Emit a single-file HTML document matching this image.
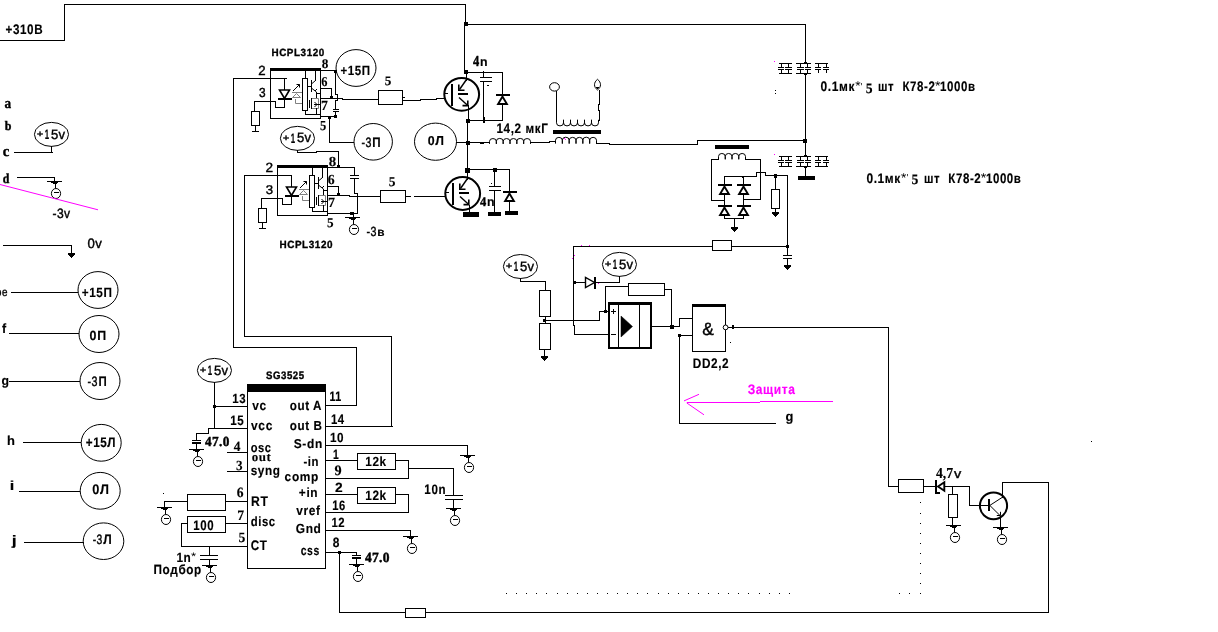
<!DOCTYPE html>
<html lang="ru">
<head>
<meta charset="utf-8">
<title>Схема: SG3525, HCPL3120</title>
<style>
html,body{margin:0;padding:0;background:#fff;}
body{width:1218px;height:632px;overflow:hidden;}
svg{display:block;will-change:transform;}
text{font-family:"Liberation Sans",sans-serif;font-size:13.33px;fill:#000;white-space:pre;text-rendering:geometricPrecision;}
text.b{font-weight:bold;stroke:#000;stroke-width:0.15px;}
text.r{font-weight:normal;stroke:#000;stroke-width:0.4px;}
text.tb{font-family:"Liberation Serif",serif;font-weight:bold;stroke:#000;stroke-width:0.4px;}
text.t{font-family:"Liberation Serif",serif;font-weight:normal;stroke:#000;stroke-width:0.3px;}
text.tm{font-family:"Liberation Serif",serif;font-weight:bold;stroke:#000;stroke-width:0.12px;}
text.s{font-weight:bold;stroke:#000;stroke-width:0.35px;}
text.l{font-weight:normal;}
</style>
</head>
<body>
<svg width="1218" height="632" viewBox="0 0 1218 632" shape-rendering="crispEdges">
<rect x="0" y="0" width="1218" height="632" fill="#fff"/>
<rect x="0" y="40" width="65" height="1" fill="#000"/>
<rect x="64" y="4" width="1" height="37" fill="#000"/>
<rect x="64" y="4" width="402" height="1" fill="#000"/>
<rect x="465" y="4" width="1" height="21" fill="#000"/>
<rect x="465" y="24" width="341" height="1" fill="#000"/>
<rect x="805" y="24" width="1" height="39" fill="#000"/>
<rect x="805" y="74" width="1" height="82" fill="#000"/>
<rect x="805" y="167" width="1" height="10" fill="#000"/>
<rect x="464" y="22" width="4" height="4" fill="#000"/>
<rect x="464" y="24" width="1" height="49" fill="#000"/>
<text class="b" transform="translate(5.53 33.66) scale(0.845 1)" style="font-size:13.80px;letter-spacing:0.7px">+310B</text>
<text class="tb" transform="translate(4.50 107.85) scale(0.879 1)" style="font-size:15.00px">a</text>
<text class="tb" transform="translate(4.72 130.47) scale(0.930 1)" style="font-size:12.91px">b</text>
<text class="tb" transform="translate(2.68 155.65) scale(0.987 1)" style="font-size:15.00px">c</text>
<text class="tb" transform="translate(2.72 182.86) scale(0.873 1)" style="font-size:13.62px">d</text>
<ellipse cx="51.5" cy="134.4" rx="17.05" ry="12.0" fill="none" stroke="#000" stroke-width="1" shape-rendering="geometricPrecision"/>
<text class="b" transform="translate(36.70 137.29) scale(1.214 1)" style="font-size:9.22px">+</text><text class="b" transform="translate(44.69 138.65) scale(0.570 1)" style="font-size:13.77px">1</text><text class="r" transform="translate(50.93 138.51) scale(0.964 1)" style="font-size:13.57px;letter-spacing:0.4px">5v</text>
<rect x="51" y="146" width="1" height="7" fill="#000"/>
<rect x="14" y="152" width="39" height="1" fill="#000"/>
<rect x="17" y="177" width="38" height="1" fill="#000"/>
<rect x="54" y="177" width="1" height="5" fill="#000"/>
<rect x="47" y="181" width="15" height="1" fill="#000"/>
<rect x="51" y="182" width="7" height="1" fill="#000"/>
<rect x="53" y="183" width="4" height="1" fill="#000"/>
<rect x="55" y="184" width="1" height="4" fill="#000"/>
<ellipse cx="56" cy="193.5" rx="4.6" ry="5.0" fill="none" stroke="#000" stroke-width="1" shape-rendering="geometricPrecision"/>
<rect x="54" y="192" width="5" height="1" fill="#000"/>
<line x1="0" y1="184.5" x2="98" y2="209.8" stroke="#ff00ff" stroke-width="1" shape-rendering="geometricPrecision"/>
<text class="r" transform="translate(52.56 217.66) scale(0.893 1)" style="font-size:13.52px;letter-spacing:0.4px">-3v</text>
<rect x="3" y="245" width="69" height="1" fill="#000"/>
<rect x="71" y="245" width="1" height="9" fill="#000"/>
<rect x="68" y="253" width="7" height="2" fill="#000"/>
<rect x="69" y="255" width="5" height="1" fill="#000"/>
<rect x="70" y="256" width="3" height="1" fill="#000"/>
<rect x="71" y="257" width="1" height="1" fill="#000"/>
<text class="r" transform="translate(87.57 247.66) scale(0.975 1)" style="font-size:13.52px;letter-spacing:0.4px">0v</text>
<text class="r" transform="translate(-4.85 295.58) scale(0.944 1)" style="font-size:11.82px">o</text><text class="r" transform="translate(1.95 295.58) scale(0.837 1)" style="font-size:11.82px">e</text>
<rect x="11" y="292" width="67" height="1" fill="#000"/>
<ellipse cx="98" cy="290" rx="20" ry="18.4" fill="none" stroke="#000" stroke-width="1" shape-rendering="geometricPrecision"/>
<text class="b" transform="translate(81.73 296.67) scale(0.874 1)" style="font-size:13.43px;letter-spacing:0.7px">+15П</text>
<text class="b" transform="translate(2.01 333.00) scale(0.934 1)" style="font-size:13.38px">f</text>
<rect x="9" y="333" width="70" height="1" fill="#000"/>
<ellipse cx="99" cy="334" rx="20" ry="18.5" fill="none" stroke="#000" stroke-width="1" shape-rendering="geometricPrecision"/>
<text class="b" transform="translate(89.60 339.57) scale(0.927 1)" style="font-size:13.38px;letter-spacing:0.7px">0П</text>
<text class="b" transform="translate(1.51 384.83) scale(0.930 1)" style="font-size:13.20px">g</text>
<rect x="9" y="381" width="71" height="1" fill="#000"/>
<ellipse cx="100" cy="381" rx="20" ry="18.5" fill="none" stroke="#000" stroke-width="1" shape-rendering="geometricPrecision"/>
<text class="r" transform="translate(87.52 385.56) scale(0.793 1)" style="font-size:13.52px;letter-spacing:0.4px">-3</text><text class="b" transform="translate(98.46 385.70) scale(0.823 1)" style="font-size:13.91px">П</text>
<text class="b" transform="translate(7.00 444.80) scale(0.996 1)" style="font-size:12.97px">h</text>
<rect x="23" y="442" width="58" height="1" fill="#000"/>
<ellipse cx="101.2" cy="442.8" rx="20" ry="18.4" fill="none" stroke="#000" stroke-width="1" shape-rendering="geometricPrecision"/>
<text class="b" transform="translate(85.73 446.96) scale(0.845 1)" style="font-size:13.86px;letter-spacing:0.7px">+15Л</text>
<text class="b" transform="translate(9.86 489.80) scale(1.244 1)" style="font-size:13.10px">i</text>
<rect x="19" y="491" width="61" height="1" fill="#000"/>
<ellipse cx="100.2" cy="490.8" rx="20" ry="18.4" fill="none" stroke="#000" stroke-width="1" shape-rendering="geometricPrecision"/>
<text class="b" transform="translate(92.29 493.86) scale(0.914 1)" style="font-size:13.94px;letter-spacing:0.7px">0Л</text>
<text class="b" transform="translate(11.67 544.90) scale(1.289 1)" style="font-size:13.80px">j</text>
<rect x="24" y="542" width="60" height="1" fill="#000"/>
<ellipse cx="103.5" cy="541.2" rx="20.3" ry="18.3" fill="none" stroke="#000" stroke-width="1" shape-rendering="geometricPrecision"/>
<text class="r" transform="translate(92.63 543.66) scale(0.767 1)" style="font-size:13.52px;letter-spacing:0.4px">-3</text><text class="b" transform="translate(103.14 543.66) scale(0.880 1)" style="font-size:13.71px">Л</text>
<rect x="270" y="68" width="51" height="3" fill="#000"/>
<rect x="270" y="68" width="1" height="51" fill="#000"/>
<rect x="320" y="68" width="1" height="51" fill="#000"/>
<rect x="270" y="118" width="51" height="1" fill="#000"/>
<rect x="284" y="78" width="1" height="12" fill="#000"/>
<path d="M279.5 90 L289.5 90 L284.5 98.5 Z" fill="none" stroke="#000" stroke-width="1.6" stroke-linejoin="miter" shape-rendering="geometricPrecision"/>
<rect x="278" y="98" width="14" height="2" fill="#000"/>
<rect x="284" y="100" width="1" height="8" fill="#000"/>
<rect x="275" y="107" width="10" height="1" fill="#000"/>
<rect x="275" y="101" width="1" height="7" fill="#000"/>
<line x1="293" y1="91" x2="299.5" y2="84.5" stroke="#000" stroke-width="1" shape-rendering="geometricPrecision"/>
<path d="M296.5 84.5 L299.5 84.5 L299.5 87.5" fill="none" stroke="#000" stroke-width="1" stroke-linejoin="miter" shape-rendering="geometricPrecision"/>
<rect x="292" y="92" width="10" height="1" fill="#808080"/>
<path d="M292.5 97.5 L296.5 93.5 L300.5 97.5 Z" fill="none" stroke="#808080" stroke-width="1" stroke-linejoin="miter" shape-rendering="geometricPrecision"/>
<path d="M295.5 99 L295.5 103.5 L302 103.5" fill="none" stroke="#808080" stroke-width="1" stroke-linejoin="miter" shape-rendering="geometricPrecision"/>
<rect x="305" y="71" width="1" height="8" fill="#000"/>
<rect x="302.5" y="78.5" width="5" height="32" fill="none" stroke="#000" stroke-width="1"/>
<rect x="305" y="110" width="1" height="5" fill="#000"/>
<rect x="305" y="114" width="16" height="1" fill="#000"/>
<rect x="315" y="71" width="1" height="10" fill="#000"/>
<line x1="315.5" y1="80.5" x2="312" y2="83.5" stroke="#000" stroke-width="1" shape-rendering="geometricPrecision"/>
<rect x="311" y="80" width="1" height="12" fill="#000"/>
<rect x="308" y="86" width="4" height="1" fill="#000"/>
<line x1="312" y1="88.5" x2="316.5" y2="92" stroke="#000" stroke-width="1" shape-rendering="geometricPrecision"/>
<rect x="316" y="89" width="1" height="1" fill="#000"/>
<rect x="315" y="90" width="1" height="1" fill="#000"/>
<rect x="316" y="92" width="1" height="7" fill="#000"/>
<rect x="316" y="93" width="5" height="1" fill="#000"/>
<rect x="309" y="100" width="1" height="8" fill="#000"/>
<rect x="311" y="98" width="1" height="11" fill="#000"/>
<path d="M312 98.5 L318.5 98.5 L318.5 108.5 L312 108.5" fill="none" stroke="#808080" stroke-width="1" stroke-linejoin="miter" shape-rendering="geometricPrecision"/>
<rect x="314" y="104" width="6" height="1" fill="#000"/>
<path d="M314.5 102 L317 104.5 L314.5 107" fill="none" stroke="#000" stroke-width="1" stroke-linejoin="miter" shape-rendering="geometricPrecision"/>
<rect x="316" y="108" width="1" height="7" fill="#000"/>
<rect x="277" y="165" width="51" height="3" fill="#000"/>
<rect x="277" y="165" width="1" height="51" fill="#000"/>
<rect x="327" y="165" width="1" height="51" fill="#000"/>
<rect x="277" y="215" width="51" height="1" fill="#000"/>
<rect x="291" y="175" width="1" height="12" fill="#000"/>
<path d="M286.5 187 L296.5 187 L291.5 195.5 Z" fill="none" stroke="#000" stroke-width="1.6" stroke-linejoin="miter" shape-rendering="geometricPrecision"/>
<rect x="285" y="195" width="14" height="2" fill="#000"/>
<rect x="291" y="197" width="1" height="8" fill="#000"/>
<rect x="282" y="204" width="10" height="1" fill="#000"/>
<rect x="282" y="198" width="1" height="7" fill="#000"/>
<line x1="300" y1="188" x2="306.5" y2="181.5" stroke="#000" stroke-width="1" shape-rendering="geometricPrecision"/>
<path d="M303.5 181.5 L306.5 181.5 L306.5 184.5" fill="none" stroke="#000" stroke-width="1" stroke-linejoin="miter" shape-rendering="geometricPrecision"/>
<rect x="299" y="189" width="10" height="1" fill="#808080"/>
<path d="M299.5 194.5 L303.5 190.5 L307.5 194.5 Z" fill="none" stroke="#808080" stroke-width="1" stroke-linejoin="miter" shape-rendering="geometricPrecision"/>
<path d="M302.5 196 L302.5 200.5 L309 200.5" fill="none" stroke="#808080" stroke-width="1" stroke-linejoin="miter" shape-rendering="geometricPrecision"/>
<rect x="312" y="168" width="1" height="8" fill="#000"/>
<rect x="309.5" y="175.5" width="5" height="32" fill="none" stroke="#000" stroke-width="1"/>
<rect x="312" y="207" width="1" height="5" fill="#000"/>
<rect x="312" y="211" width="16" height="1" fill="#000"/>
<rect x="322" y="168" width="1" height="10" fill="#000"/>
<line x1="322.5" y1="177.5" x2="319" y2="180.5" stroke="#000" stroke-width="1" shape-rendering="geometricPrecision"/>
<rect x="318" y="177" width="1" height="12" fill="#000"/>
<rect x="315" y="183" width="4" height="1" fill="#000"/>
<line x1="319" y1="185.5" x2="323.5" y2="189" stroke="#000" stroke-width="1" shape-rendering="geometricPrecision"/>
<rect x="323" y="186" width="1" height="1" fill="#000"/>
<rect x="322" y="187" width="1" height="1" fill="#000"/>
<rect x="323" y="189" width="1" height="7" fill="#000"/>
<rect x="323" y="190" width="5" height="1" fill="#000"/>
<rect x="316" y="197" width="1" height="8" fill="#000"/>
<rect x="318" y="195" width="1" height="11" fill="#000"/>
<path d="M319 195.5 L325.5 195.5 L325.5 205.5 L319 205.5" fill="none" stroke="#808080" stroke-width="1" stroke-linejoin="miter" shape-rendering="geometricPrecision"/>
<rect x="321" y="201" width="6" height="1" fill="#000"/>
<path d="M321.5 199 L324 201.5 L321.5 204" fill="none" stroke="#000" stroke-width="1" stroke-linejoin="miter" shape-rendering="geometricPrecision"/>
<rect x="323" y="205" width="1" height="7" fill="#000"/>
<text class="s" transform="translate(271.46 55.90) scale(0.948 1)" style="font-size:10.42px;letter-spacing:0.6px">HCPL3120</text>
<text class="r" transform="translate(258.34 74.80) scale(0.993 1)" style="font-size:13.29px">2</text>
<text class="r" transform="translate(258.92 96.67) scale(0.910 1)" style="font-size:13.10px">3</text>
<text class="tm" transform="translate(321.74 68.47) scale(1.005 1)" style="font-size:13.19px">8</text>
<text class="tm" transform="translate(321.27 86.36) scale(0.914 1)" style="font-size:13.58px">6</text>
<text class="tm" transform="translate(320.94 109.60) scale(0.994 1)" style="font-size:13.89px">7</text>
<text class="tm" transform="translate(320.00 130.46) scale(0.911 1)" style="font-size:13.68px">5</text>
<rect x="233" y="78" width="1" height="269" fill="#000"/>
<rect x="233" y="78" width="54" height="1" fill="#000"/>
<rect x="254" y="101" width="22" height="1" fill="#000"/>
<rect x="254" y="101" width="1" height="11" fill="#000"/>
<rect x="251.5" y="111.5" width="8" height="14" fill="none" stroke="#000" stroke-width="1"/>
<rect x="255" y="126" width="1" height="6" fill="#000"/>
<rect x="252" y="131" width="7" height="1" fill="#000"/>
<rect x="320" y="70" width="16" height="1" fill="#000"/>
<rect x="334" y="70" width="3" height="3" fill="#000"/>
<rect x="335" y="70" width="1" height="25" fill="#000"/>
<rect x="335" y="94" width="3" height="1" fill="#000"/>
<rect x="337" y="94" width="1" height="7" fill="#000"/>
<rect x="335" y="100" width="3" height="1" fill="#000"/>
<rect x="335" y="100" width="1" height="10" fill="#000"/>
<rect x="333" y="109" width="6" height="1" fill="#000"/>
<rect x="333" y="111" width="6" height="1" fill="#000"/>
<rect x="335" y="111" width="1" height="6" fill="#000"/>
<rect x="334" y="115" width="3" height="3" fill="#000"/>
<rect x="320" y="88" width="12" height="1" fill="#000"/>
<rect x="331" y="88" width="1" height="10" fill="#000"/>
<rect x="330" y="96" width="3" height="3" fill="#000"/>
<rect x="320" y="98" width="23" height="1" fill="#000"/>
<rect x="342" y="99" width="37" height="1" fill="#000"/>
<rect x="378.5" y="90.5" width="24" height="14" fill="none" stroke="#000" stroke-width="1"/>
<rect x="403" y="97" width="2" height="1" fill="#000"/>
<rect x="402" y="100" width="19" height="1" fill="#000"/>
<rect x="420" y="99" width="17" height="1" fill="#000"/>
<rect x="436" y="98" width="8" height="1" fill="#000"/>
<text class="tm" transform="translate(384.67 85.47) scale(1.019 1)" style="font-size:12.93px">5</text>
<rect x="320" y="116" width="17" height="1" fill="#000"/>
<rect x="328" y="116" width="3" height="3" fill="#000"/>
<rect x="329" y="116" width="1" height="27" fill="#000"/>
<rect x="329" y="142" width="25" height="1" fill="#000"/>
<ellipse cx="356" cy="68" rx="20" ry="18.4" fill="none" stroke="#000" stroke-width="1" shape-rendering="geometricPrecision"/>
<text class="b" transform="translate(340.44 74.67) scale(0.859 1)" style="font-size:13.43px;letter-spacing:0.7px">+15П</text>
<ellipse cx="373.2" cy="141.8" rx="19.2" ry="18.3" fill="none" stroke="#000" stroke-width="1" shape-rendering="geometricPrecision"/>
<text class="r" transform="translate(361.62 146.76) scale(0.785 1)" style="font-size:13.52px;letter-spacing:0.4px">-3</text><text class="b" transform="translate(372.34 146.90) scale(0.835 1)" style="font-size:13.91px">П</text>
<ellipse cx="297.45" cy="138.35" rx="17.05" ry="12.0" fill="none" stroke="#000" stroke-width="1" shape-rendering="geometricPrecision"/>
<text class="b" transform="translate(282.65 141.24) scale(1.214 1)" style="font-size:9.22px">+</text><text class="b" transform="translate(290.64 142.60) scale(0.570 1)" style="font-size:13.77px">1</text><text class="r" transform="translate(296.88 142.46) scale(0.964 1)" style="font-size:13.57px;letter-spacing:0.4px">5v</text>
<text class="s" transform="translate(279.45 247.70) scale(0.953 1)" style="font-size:10.42px;letter-spacing:0.6px">HCPL3120</text>
<text class="r" transform="translate(265.52 172.00) scale(1.015 1)" style="font-size:13.43px">2</text>
<text class="r" transform="translate(265.67 193.67) scale(1.041 1)" style="font-size:12.68px">3</text>
<text class="tm" transform="translate(328.68 165.96) scale(1.069 1)" style="font-size:13.93px">8</text>
<text class="tm" transform="translate(327.72 183.66) scale(0.983 1)" style="font-size:14.03px">6</text>
<text class="tm" transform="translate(327.93 206.60) scale(1.000 1)" style="font-size:14.05px">7</text>
<text class="tm" transform="translate(327.07 227.36) scale(0.974 1)" style="font-size:13.53px">5</text>
<rect x="244" y="175" width="1" height="162" fill="#000"/>
<rect x="244" y="175" width="48" height="1" fill="#000"/>
<rect x="261" y="198" width="22" height="1" fill="#000"/>
<rect x="261" y="198" width="1" height="11" fill="#000"/>
<rect x="258.5" y="208.5" width="8" height="14" fill="none" stroke="#000" stroke-width="1"/>
<rect x="262" y="223" width="1" height="6" fill="#000"/>
<rect x="259" y="228" width="7" height="1" fill="#000"/>
<rect x="297" y="152" width="20" height="1" fill="#000"/>
<rect x="316" y="151" width="23" height="1" fill="#000"/>
<rect x="297" y="150" width="1" height="3" fill="#000"/>
<rect x="338" y="151" width="1" height="16" fill="#000"/>
<rect x="337" y="165" width="3" height="3" fill="#000"/>
<rect x="327" y="167" width="28" height="1" fill="#000"/>
<rect x="354" y="167" width="1" height="9" fill="#000"/>
<rect x="350" y="175" width="9" height="1" fill="#000"/>
<rect x="350" y="178" width="9" height="1" fill="#000"/>
<rect x="354" y="178" width="1" height="16" fill="#000"/>
<rect x="327" y="186" width="12" height="1" fill="#000"/>
<rect x="338" y="186" width="1" height="9" fill="#000"/>
<rect x="337" y="193" width="3" height="3" fill="#000"/>
<rect x="327" y="195" width="23" height="1" fill="#000"/>
<rect x="349" y="196" width="32" height="1" fill="#000"/>
<rect x="354" y="193" width="4" height="1" fill="#000"/>
<rect x="357" y="193" width="1" height="21" fill="#000"/>
<rect x="380.5" y="190.5" width="25" height="12" fill="none" stroke="#000" stroke-width="1"/>
<rect x="406" y="196" width="5" height="1" fill="#000"/>
<rect x="414" y="196" width="31" height="1" fill="#000"/>
<text class="tm" transform="translate(388.86 185.87) scale(1.014 1)" style="font-size:13.23px">5</text>
<rect x="327" y="213" width="31" height="1" fill="#000"/>
<rect x="350" y="212" width="4" height="3" fill="#000"/>
<rect x="353" y="213" width="1" height="5" fill="#000"/>
<rect x="345" y="217" width="15" height="1" fill="#000"/>
<rect x="349" y="218" width="7" height="1" fill="#000"/>
<rect x="351" y="219" width="4" height="1" fill="#000"/>
<rect x="353" y="220" width="1" height="4" fill="#000"/>
<ellipse cx="354" cy="229.5" rx="4.6" ry="5.0" fill="none" stroke="#000" stroke-width="1" shape-rendering="geometricPrecision"/>
<rect x="352" y="228" width="5" height="1" fill="#000"/>
<text class="r" transform="translate(366.62 235.67) scale(0.810 1)" style="font-size:13.24px;letter-spacing:0.4px">-3</text><text class="b" transform="translate(377.17 235.80) scale(1.016 1)" style="font-size:11.70px">в</text>
<rect x="244" y="336" width="148" height="1" fill="#000"/>
<rect x="391" y="336" width="1" height="91" fill="#000"/>
<rect x="233" y="347" width="124" height="1" fill="#000"/>
<rect x="356" y="347" width="1" height="59" fill="#000"/>
<ellipse cx="461.7" cy="94.3" rx="17.4" ry="16.4" fill="none" stroke="#000" stroke-width="2" shape-rendering="geometricPrecision"/>
<rect x="451" y="84" width="2" height="22" fill="#000"/>
<rect x="445" y="93" width="3" height="1" fill="#000"/>
<rect x="466" y="72" width="1" height="9" fill="#000"/>
<line x1="466.5" y1="79.5" x2="459.5" y2="89.5" stroke="#000" stroke-width="1.4" shape-rendering="geometricPrecision"/>
<path d="M458.8 84.5 L458.8 90.3 L464.5 90.3" fill="none" stroke="#000" stroke-width="1.6" stroke-linejoin="miter" shape-rendering="geometricPrecision"/>
<rect x="458" y="93" width="10" height="2" fill="#000"/>
<line x1="459" y1="97.5" x2="467.5" y2="105.3" stroke="#000" stroke-width="1.4" shape-rendering="geometricPrecision"/>
<path d="M467.8 100.5 L467.8 105.6 L462.5 105.6" fill="none" stroke="#000" stroke-width="1.6" stroke-linejoin="miter" shape-rendering="geometricPrecision"/>
<rect x="464" y="70" width="4" height="4" fill="#000"/>
<rect x="466" y="72" width="37" height="1" fill="#000"/>
<rect x="502" y="72" width="1" height="23" fill="#000"/>
<rect x="502" y="104" width="1" height="17" fill="#000"/>
<rect x="483" y="71" width="1" height="7" fill="#000"/>
<rect x="480" y="77" width="12" height="1" fill="#000"/>
<rect x="480" y="81" width="12" height="1" fill="#000"/>
<rect x="483" y="82" width="1" height="41" fill="#000"/>
<rect x="487" y="85" width="2" height="1" fill="#000"/>
<rect x="496" y="94" width="14" height="2" fill="#000"/>
<path d="M502.5 96.6 L498.1 104 L506.9 104 Z" fill="none" stroke="#000" stroke-width="1.9" stroke-linejoin="miter" shape-rendering="geometricPrecision"/>
<rect x="468" y="105" width="1" height="16" fill="#000"/>
<rect x="466" y="119" width="4" height="4" fill="#000"/>
<rect x="468" y="120" width="35" height="1" fill="#000"/>
<text class="tb" transform="translate(472.91 65.80) scale(0.823 1)" style="font-size:15.15px">4</text><text class="b" transform="translate(480.10 65.80) scale(0.982 1)" style="font-size:12.59px">n</text>
<rect x="467" y="120" width="1" height="51" fill="#000"/>
<rect x="480" y="142" width="4" height="2" fill="#000"/>
<rect x="483" y="117" width="2" height="6" fill="#000"/>
<rect x="466" y="141" width="4" height="4" fill="#000"/>
<ellipse cx="462.7" cy="193.5" rx="17.4" ry="16.4" fill="none" stroke="#000" stroke-width="2" shape-rendering="geometricPrecision"/>
<rect x="452" y="183" width="2" height="22" fill="#000"/>
<rect x="446" y="192" width="3" height="1" fill="#000"/>
<rect x="467" y="171" width="1" height="9" fill="#000"/>
<line x1="467.5" y1="178.5" x2="460.5" y2="188.5" stroke="#000" stroke-width="1.4" shape-rendering="geometricPrecision"/>
<path d="M459.8 183.5 L459.8 189.3 L465.5 189.3" fill="none" stroke="#000" stroke-width="1.6" stroke-linejoin="miter" shape-rendering="geometricPrecision"/>
<rect x="459" y="192" width="10" height="2" fill="#000"/>
<line x1="460" y1="196.5" x2="468.5" y2="204.3" stroke="#000" stroke-width="1.4" shape-rendering="geometricPrecision"/>
<path d="M468.8 199.5 L468.8 204.6 L463.5 204.6" fill="none" stroke="#000" stroke-width="1.6" stroke-linejoin="miter" shape-rendering="geometricPrecision"/>
<rect x="465" y="168" width="5" height="5" fill="#000"/>
<rect x="467" y="169" width="43" height="1" fill="#000"/>
<rect x="493" y="168" width="4" height="4" fill="#000"/>
<rect x="494" y="170" width="1" height="17" fill="#000"/>
<rect x="489" y="186" width="12" height="1" fill="#000"/>
<rect x="489" y="190" width="12" height="1" fill="#000"/>
<rect x="494" y="191" width="1" height="22" fill="#000"/>
<rect x="488" y="212" width="13" height="4" fill="#000"/>
<rect x="491" y="183" width="1" height="1" fill="#000"/>
<rect x="509" y="169" width="1" height="23" fill="#000"/>
<rect x="503" y="191" width="14" height="2" fill="#000"/>
<path d="M509.5 193.6 L505.1 201 L513.9 201 Z" fill="none" stroke="#000" stroke-width="1.9" stroke-linejoin="miter" shape-rendering="geometricPrecision"/>
<rect x="509" y="202" width="1" height="10" fill="#000"/>
<rect x="505" y="211" width="13" height="4" fill="#000"/>
<rect x="469" y="205" width="1" height="8" fill="#000"/>
<rect x="463" y="212" width="16" height="5" fill="#000"/>
<rect x="430" y="196" width="15" height="1" fill="#000"/>
<text class="tb" transform="translate(479.91 205.80) scale(0.946 1)" style="font-size:13.18px">4</text><text class="b" transform="translate(487.10 205.80) scale(0.982 1)" style="font-size:12.59px">n</text>
<ellipse cx="435.5" cy="141.7" rx="21" ry="18.6" fill="none" stroke="#000" stroke-width="1" shape-rendering="geometricPrecision"/>
<text class="b" transform="translate(427.70 144.87) scale(0.955 1)" style="font-size:12.96px;letter-spacing:0.7px">0Л</text>
<rect x="456" y="142" width="25" height="1" fill="#000"/>
<path d="M489.50 143.9 L489.50 141.3 A3.42 2.90 0 0 1 496.33 141.3 L496.33 143.9 M496.33 143.9 L496.33 141.3 A3.42 2.90 0 0 1 503.17 141.3 L503.17 143.9 M503.17 143.9 L503.17 141.3 A3.42 2.90 0 0 1 510.00 141.3 L510.00 143.9 M510.00 143.9 L510.00 141.3 A3.42 2.90 0 0 1 516.83 141.3 L516.83 143.9 M516.83 143.9 L516.83 141.3 A3.42 2.90 0 0 1 523.67 141.3 L523.67 143.9 M523.67 143.9 L523.67 141.3 A3.42 2.90 0 0 1 530.50 141.3 L530.50 143.9" fill="none" stroke="#000" stroke-width="1" shape-rendering="geometricPrecision"/>
<rect x="480" y="142" width="10" height="1" fill="#000"/>
<rect x="531" y="142" width="19" height="1" fill="#000"/>
<rect x="549" y="141" width="7" height="1" fill="#000"/>
<text class="b" transform="translate(496.44 133.30) scale(0.854 1)" style="font-size:13.71px;letter-spacing:0.7px">14,2 мкГ</text>
<path d="M555.50 143.6 L555.50 140.2 A3.42 3.00 0 0 1 562.33 140.2 L562.33 143.6 M562.33 143.6 L562.33 140.2 A3.42 3.00 0 0 1 569.17 140.2 L569.17 143.6 M569.17 143.6 L569.17 140.2 A3.42 3.00 0 0 1 576.00 140.2 L576.00 143.6 M576.00 143.6 L576.00 140.2 A3.42 3.00 0 0 1 582.83 140.2 L582.83 143.6 M582.83 143.6 L582.83 140.2 A3.42 3.00 0 0 1 589.67 140.2 L589.67 143.6 M589.67 143.6 L589.67 140.2 A3.42 3.00 0 0 1 596.50 140.2 L596.50 143.6" fill="none" stroke="#000" stroke-width="1" shape-rendering="geometricPrecision"/>
<path d="M556.50 119.8 L556.50 122.8 A3.50 3.10 0 0 0 563.50 122.8 L563.50 119.8 M563.50 119.8 L563.50 122.8 A3.50 3.10 0 0 0 570.50 122.8 L570.50 119.8 M570.50 119.8 L570.50 122.8 A3.50 3.10 0 0 0 577.50 122.8 L577.50 119.8 M577.50 119.8 L577.50 122.8 A3.50 3.10 0 0 0 584.50 122.8 L584.50 119.8 M584.50 119.8 L584.50 122.8 A3.50 3.10 0 0 0 591.50 122.8 L591.50 119.8 M591.50 119.8 L591.50 122.8 A3.50 3.10 0 0 0 598.50 122.8 L598.50 119.8" fill="none" stroke="#000" stroke-width="1" shape-rendering="geometricPrecision"/>
<rect x="599" y="118" width="1" height="3" fill="#000"/>
<rect x="553" y="130" width="48" height="4" fill="#000"/>
<rect x="564" y="138" width="1" height="1" fill="#ff00ff"/>
<rect x="565" y="139" width="1" height="1" fill="#ff00ff"/>
<ellipse cx="554.5" cy="86.9" rx="4.9" ry="4.2" fill="none" stroke="#000" stroke-width="1" shape-rendering="geometricPrecision"/>
<rect x="556" y="91" width="1" height="30" fill="#000"/>
<path d="M597.5 79.3 C601.5 82.5,601.5 87,597.5 90.0 C593.5 87,593.5 82.5,597.5 79.3 Z" fill="none" stroke="#000" stroke-width="1" shape-rendering="geometricPrecision"/>
<rect x="599" y="90" width="1" height="15" fill="#000"/>
<rect x="598" y="104" width="1" height="7" fill="#000"/>
<rect x="599" y="110" width="1" height="9" fill="#000"/>
<rect x="596" y="87" width="3" height="1" fill="#000"/>
<rect x="597" y="88" width="1" height="1" fill="#000"/>
<rect x="596" y="143" width="14" height="1" fill="#000"/>
<rect x="609" y="144" width="89" height="1" fill="#000"/>
<rect x="697" y="140" width="1" height="5" fill="#000"/>
<rect x="697" y="140" width="109" height="1" fill="#000"/>
<rect x="803" y="139" width="4" height="4" fill="#000"/>
<rect x="715" y="145" width="34" height="4" fill="#000"/>
<path d="M718.50 159.3 L718.50 156.4 A3.38 3.10 0 0 1 725.25 156.4 L725.25 159.3 M725.25 159.3 L725.25 156.4 A3.38 3.10 0 0 1 732.00 156.4 L732.00 159.3 M732.00 159.3 L732.00 156.4 A3.38 3.10 0 0 1 738.75 156.4 L738.75 159.3 M738.75 159.3 L738.75 156.4 A3.38 3.10 0 0 1 745.50 156.4 L745.50 159.3" fill="none" stroke="#000" stroke-width="1" shape-rendering="geometricPrecision"/>
<rect x="711" y="159" width="8" height="1" fill="#000"/>
<rect x="745" y="159" width="16" height="1" fill="#000"/>
<rect x="711" y="159" width="1" height="42" fill="#000"/>
<rect x="760" y="159" width="1" height="41" fill="#000"/>
<rect x="711" y="200" width="14" height="1" fill="#000"/>
<rect x="744" y="199" width="17" height="1" fill="#000"/>
<rect x="724" y="176" width="33" height="1" fill="#000"/>
<rect x="756" y="172" width="1" height="5" fill="#000"/>
<rect x="756" y="172" width="10" height="1" fill="#000"/>
<rect x="765" y="172" width="1" height="4" fill="#000"/>
<rect x="765" y="175" width="23" height="1" fill="#000"/>
<rect x="787" y="175" width="1" height="72" fill="#000"/>
<rect x="774" y="174" width="3" height="4" fill="#000"/>
<rect x="775" y="176" width="1" height="14" fill="#000"/>
<rect x="771.5" y="189.5" width="8" height="19" fill="none" stroke="#000" stroke-width="1"/>
<rect x="775" y="209" width="1" height="4" fill="#000"/>
<rect x="772" y="212" width="7" height="2" fill="#000"/>
<rect x="773" y="214" width="5" height="1" fill="#000"/>
<rect x="774" y="215" width="3" height="1" fill="#000"/>
<rect x="775" y="216" width="1" height="1" fill="#000"/>
<rect x="724" y="176" width="1" height="9" fill="#000"/>
<rect x="724" y="195" width="1" height="11" fill="#000"/>
<rect x="724" y="216" width="1" height="3" fill="#000"/>
<rect x="743" y="176" width="1" height="9" fill="#000"/>
<rect x="743" y="195" width="1" height="11" fill="#000"/>
<rect x="743" y="216" width="1" height="3" fill="#000"/>
<rect x="743" y="177" width="1" height="1" fill="#000"/>
<rect x="723" y="200" width="1" height="1" fill="#000"/>
<rect x="744" y="199" width="1" height="1" fill="#000"/>
<rect x="742" y="177" width="1" height="1" fill="#000"/>
<rect x="718" y="184" width="14" height="2" fill="#000"/>
<path d="M724.5 186.6 L720.1 194 L728.9 194 Z" fill="none" stroke="#000" stroke-width="1.9" stroke-linejoin="miter" shape-rendering="geometricPrecision"/>
<rect x="737" y="184" width="14" height="2" fill="#000"/>
<path d="M743.5 186.6 L739.1 194 L747.9 194 Z" fill="none" stroke="#000" stroke-width="1.9" stroke-linejoin="miter" shape-rendering="geometricPrecision"/>
<rect x="718" y="205" width="14" height="2" fill="#000"/>
<path d="M724.5 207.6 L720.1 215 L728.9 215 Z" fill="none" stroke="#000" stroke-width="1.9" stroke-linejoin="miter" shape-rendering="geometricPrecision"/>
<rect x="737" y="205" width="14" height="2" fill="#000"/>
<path d="M743.5 207.6 L739.1 215 L747.9 215 Z" fill="none" stroke="#000" stroke-width="1.9" stroke-linejoin="miter" shape-rendering="geometricPrecision"/>
<rect x="724" y="218" width="20" height="1" fill="#000"/>
<rect x="734" y="218" width="1" height="10" fill="#000"/>
<rect x="731" y="227" width="7" height="2" fill="#000"/>
<rect x="732" y="229" width="5" height="1" fill="#000"/>
<rect x="733" y="230" width="3" height="1" fill="#000"/>
<rect x="734" y="231" width="1" height="1" fill="#000"/>
<rect x="779" y="63" width="13" height="1" fill="#000"/>
<rect x="779" y="73" width="13" height="1" fill="#000"/>
<rect x="778" y="67" width="6" height="1" fill="#000"/>
<rect x="785" y="67" width="7" height="1" fill="#000"/>
<rect x="778" y="69" width="6" height="1" fill="#000"/>
<rect x="785" y="69" width="7" height="1" fill="#000"/>
<rect x="781" y="63" width="1" height="5" fill="#000"/>
<rect x="781" y="69" width="1" height="5" fill="#000"/>
<rect x="788" y="63" width="1" height="5" fill="#000"/>
<rect x="788" y="69" width="1" height="5" fill="#000"/>
<rect x="796" y="63" width="15" height="1" fill="#000"/>
<rect x="796" y="73" width="15" height="1" fill="#000"/>
<rect x="797" y="67" width="7" height="1" fill="#000"/>
<rect x="805" y="67" width="6" height="1" fill="#000"/>
<rect x="797" y="69" width="7" height="1" fill="#000"/>
<rect x="805" y="69" width="6" height="1" fill="#000"/>
<rect x="800" y="63" width="1" height="5" fill="#000"/>
<rect x="800" y="69" width="1" height="5" fill="#000"/>
<rect x="807" y="63" width="1" height="5" fill="#000"/>
<rect x="807" y="69" width="1" height="5" fill="#000"/>
<rect x="804" y="62" width="3" height="1" fill="#000"/>
<rect x="804" y="74" width="3" height="1" fill="#000"/>
<rect x="815" y="63" width="13" height="1" fill="#000"/>
<rect x="815" y="67" width="6" height="1" fill="#000"/>
<rect x="823" y="67" width="6" height="1" fill="#000"/>
<rect x="815" y="69" width="6" height="1" fill="#000"/>
<rect x="823" y="69" width="6" height="1" fill="#000"/>
<rect x="818" y="63" width="1" height="5" fill="#000"/>
<rect x="818" y="69" width="1" height="4" fill="#000"/>
<rect x="826" y="63" width="1" height="5" fill="#000"/>
<rect x="826" y="69" width="1" height="4" fill="#000"/>
<rect x="779" y="156" width="13" height="1" fill="#000"/>
<rect x="779" y="166" width="13" height="1" fill="#000"/>
<rect x="778" y="160" width="6" height="1" fill="#000"/>
<rect x="785" y="160" width="7" height="1" fill="#000"/>
<rect x="778" y="162" width="6" height="1" fill="#000"/>
<rect x="785" y="162" width="7" height="1" fill="#000"/>
<rect x="781" y="156" width="1" height="5" fill="#000"/>
<rect x="781" y="162" width="1" height="5" fill="#000"/>
<rect x="788" y="156" width="1" height="5" fill="#000"/>
<rect x="788" y="162" width="1" height="5" fill="#000"/>
<rect x="796" y="156" width="15" height="1" fill="#000"/>
<rect x="796" y="166" width="15" height="1" fill="#000"/>
<rect x="797" y="160" width="7" height="1" fill="#000"/>
<rect x="805" y="160" width="6" height="1" fill="#000"/>
<rect x="797" y="162" width="7" height="1" fill="#000"/>
<rect x="805" y="162" width="6" height="1" fill="#000"/>
<rect x="800" y="156" width="1" height="5" fill="#000"/>
<rect x="800" y="162" width="1" height="5" fill="#000"/>
<rect x="807" y="156" width="1" height="5" fill="#000"/>
<rect x="807" y="162" width="1" height="5" fill="#000"/>
<rect x="804" y="155" width="3" height="1" fill="#000"/>
<rect x="804" y="167" width="3" height="1" fill="#000"/>
<rect x="815" y="156" width="13" height="1" fill="#000"/>
<rect x="815" y="160" width="6" height="1" fill="#000"/>
<rect x="823" y="160" width="6" height="1" fill="#000"/>
<rect x="815" y="162" width="6" height="1" fill="#000"/>
<rect x="823" y="162" width="6" height="1" fill="#000"/>
<rect x="815" y="166" width="13" height="1" fill="#000"/>
<rect x="818" y="156" width="1" height="5" fill="#000"/>
<rect x="818" y="162" width="1" height="5" fill="#000"/>
<rect x="826" y="156" width="1" height="5" fill="#000"/>
<rect x="826" y="162" width="1" height="5" fill="#000"/>
<rect x="798" y="176" width="17" height="4" fill="#000"/>
<text class="b" transform="translate(820.52 91.16) scale(0.866 1)" style="font-size:13.80px;letter-spacing:0.7px">0.1мк</text><text class="l" transform="translate(855.13 90.37) scale(1.067 1)" style="font-size:12.86px">*</text><text class="l" transform="translate(860.76 89.56) scale(0.869 1)" style="font-size:10.23px">'</text>
<text class="tm" transform="translate(865.65 92.76) scale(0.945 1)" style="font-size:14.44px">5</text>
<text class="b" transform="translate(878.01 91.30) scale(0.847 1)" style="font-size:13.40px;letter-spacing:0.7px">шт</text>
<text class="b" transform="translate(902.45 91.16) scale(0.835 1)" style="font-size:13.80px;letter-spacing:0.7px">К78-2</text><text class="l" transform="translate(934.91 90.37) scale(1.111 1)" style="font-size:12.86px">*</text><text class="b" transform="translate(940.05 91.16) scale(0.832 1)" style="font-size:13.80px;letter-spacing:0.7px">1000в</text>
<text class="b" transform="translate(866.42 182.86) scale(0.866 1)" style="font-size:13.80px;letter-spacing:0.7px">0.1мк</text><text class="l" transform="translate(901.03 182.07) scale(1.067 1)" style="font-size:12.86px">*</text><text class="l" transform="translate(906.66 181.26) scale(0.869 1)" style="font-size:10.23px">'</text>
<text class="tm" transform="translate(911.55 184.46) scale(0.945 1)" style="font-size:14.44px">5</text>
<text class="b" transform="translate(923.91 183.00) scale(0.847 1)" style="font-size:13.40px;letter-spacing:0.7px">шт</text>
<text class="b" transform="translate(948.35 182.86) scale(0.835 1)" style="font-size:13.80px;letter-spacing:0.7px">К78-2</text><text class="l" transform="translate(980.81 182.07) scale(1.111 1)" style="font-size:12.86px">*</text><text class="b" transform="translate(985.95 182.86) scale(0.832 1)" style="font-size:13.80px;letter-spacing:0.7px">1000в</text>
<rect x="774" y="61" width="1" height="1" fill="#ff00ff"/>
<rect x="774" y="154" width="1" height="1" fill="#ff00ff"/>
<rect x="775" y="90" width="1" height="1" fill="#000"/>
<rect x="775" y="93" width="1" height="1" fill="#000"/>
<rect x="573" y="246" width="140" height="1" fill="#000"/>
<rect x="712.5" y="240.5" width="19" height="10" fill="none" stroke="#000" stroke-width="1"/>
<rect x="732" y="246" width="56" height="1" fill="#000"/>
<rect x="786" y="245" width="3" height="3" fill="#000"/>
<rect x="787" y="246" width="1" height="10" fill="#000"/>
<rect x="783" y="255" width="9" height="1" fill="#000"/>
<rect x="783" y="258" width="9" height="1" fill="#000"/>
<rect x="787" y="258" width="1" height="8" fill="#000"/>
<rect x="784" y="265" width="7" height="2" fill="#000"/>
<rect x="785" y="267" width="5" height="1" fill="#000"/>
<rect x="786" y="268" width="3" height="1" fill="#000"/>
<rect x="787" y="269" width="1" height="1" fill="#000"/>
<rect x="573" y="246" width="1" height="80" fill="#000"/>
<rect x="574" y="325" width="1" height="10" fill="#000"/>
<rect x="574" y="334" width="35" height="1" fill="#000"/>
<rect x="581" y="245" width="1" height="1" fill="#ff00ff"/>
<rect x="589" y="245" width="1" height="1" fill="#ff00ff"/>
<rect x="574" y="255" width="1" height="1" fill="#ff00ff"/>
<rect x="572" y="258" width="1" height="1" fill="#ff00ff"/>
<rect x="598" y="283" width="1" height="1" fill="#ff00ff"/>
<rect x="573" y="281" width="3" height="3" fill="#000"/>
<rect x="574" y="282" width="12" height="1" fill="#000"/>
<path d="M585.5 277.5 L585.5 287.5 L594.5 282.5 Z" fill="none" stroke="#000" stroke-width="1.4" stroke-linejoin="miter" shape-rendering="geometricPrecision"/>
<rect x="594" y="277" width="2" height="12" fill="#000"/>
<rect x="595" y="282" width="25" height="1" fill="#000"/>
<rect x="619" y="276" width="1" height="7" fill="#000"/>
<ellipse cx="619.45" cy="264.4" rx="17.05" ry="12.0" fill="none" stroke="#000" stroke-width="1" shape-rendering="geometricPrecision"/>
<text class="b" transform="translate(604.65 267.29) scale(1.214 1)" style="font-size:9.22px">+</text><text class="b" transform="translate(612.64 268.65) scale(0.570 1)" style="font-size:13.77px">1</text><text class="r" transform="translate(618.88 268.51) scale(0.964 1)" style="font-size:13.57px;letter-spacing:0.4px">5v</text>
<ellipse cx="520.45" cy="266.5" rx="17.05" ry="12.0" fill="none" stroke="#000" stroke-width="1" shape-rendering="geometricPrecision"/>
<text class="b" transform="translate(505.65 269.39) scale(1.214 1)" style="font-size:9.22px">+</text><text class="b" transform="translate(513.64 270.75) scale(0.570 1)" style="font-size:13.77px">1</text><text class="r" transform="translate(519.88 270.61) scale(0.964 1)" style="font-size:13.57px;letter-spacing:0.4px">5v</text>
<rect x="520" y="278" width="1" height="4" fill="#000"/>
<rect x="520" y="281" width="26" height="1" fill="#000"/>
<rect x="545" y="281" width="1" height="10" fill="#000"/>
<rect x="539.5" y="290.5" width="11" height="26" fill="none" stroke="#000" stroke-width="1"/>
<rect x="545" y="317" width="1" height="7" fill="#000"/>
<rect x="539.5" y="323.5" width="11" height="26" fill="none" stroke="#000" stroke-width="1"/>
<rect x="544" y="350" width="1" height="7" fill="#000"/>
<rect x="541" y="356" width="7" height="2" fill="#000"/>
<rect x="542" y="358" width="5" height="1" fill="#000"/>
<rect x="543" y="359" width="3" height="1" fill="#000"/>
<rect x="544" y="360" width="1" height="1" fill="#000"/>
<rect x="543" y="319" width="3" height="3" fill="#000"/>
<rect x="544" y="320" width="56" height="1" fill="#000"/>
<rect x="599" y="311" width="1" height="10" fill="#000"/>
<rect x="599" y="311" width="10" height="1" fill="#000"/>
<rect x="604" y="310" width="3" height="3" fill="#000"/>
<rect x="605" y="286" width="1" height="26" fill="#000"/>
<rect x="605" y="286" width="24" height="1" fill="#000"/>
<rect x="628.5" y="283.5" width="36" height="12" fill="none" stroke="#000" stroke-width="1"/>
<rect x="665" y="289" width="7" height="1" fill="#000"/>
<rect x="671" y="289" width="1" height="38" fill="#000"/>
<rect x="670" y="325" width="4" height="4" fill="#000"/>
<rect x="609.0" y="303.0" width="42" height="45" fill="none" stroke="#000" stroke-width="2"/>
<rect x="608" y="302" width="44" height="3" fill="#000"/>
<rect x="618" y="303" width="1" height="45" fill="#000"/>
<rect x="639" y="303" width="1" height="45" fill="#000"/>
<rect x="611" y="311" width="5" height="1" fill="#000"/>
<rect x="613" y="309" width="1" height="5" fill="#000"/>
<rect x="611" y="334" width="5" height="1" fill="#000"/>
<path d="M621 316 L632.5 326.5 L621 337 Z" fill="#000" stroke="#000" stroke-width="0.5" stroke-linejoin="miter" shape-rendering="geometricPrecision"/>
<rect x="652" y="326" width="28" height="1" fill="#000"/>
<rect x="679" y="318" width="1" height="9" fill="#000"/>
<rect x="679" y="318" width="14" height="1" fill="#000"/>
<rect x="692.5" y="304.5" width="33" height="47" fill="none" stroke="#000" stroke-width="1"/>
<rect x="692" y="304" width="34" height="3" fill="#000"/>
<text class="r" transform="translate(702.29 335.32) scale(0.974 1)" style="font-size:17.86px">&amp;</text>
<rect x="679" y="335" width="14" height="1" fill="#000"/>
<rect x="678" y="334" width="3" height="3" fill="#000"/>
<rect x="679" y="335" width="1" height="89" fill="#000"/>
<circle cx="725.6" cy="327.4" r="2.4" fill="#fff" stroke="#000" stroke-width="1" shape-rendering="geometricPrecision"/>
<rect x="732" y="325" width="2" height="4" fill="#000"/>
<rect x="728" y="327" width="161" height="1" fill="#000"/>
<rect x="888" y="327" width="1" height="160" fill="#000"/>
<text class="b" transform="translate(692.83 368.30) scale(0.851 1)" style="font-size:13.86px;letter-spacing:0.7px">DD2,2</text>
<rect x="730" y="342" width="1" height="1" fill="#000"/>
<rect x="679" y="423" width="97" height="1" fill="#000"/>
<text class="b" transform="translate(785.49 420.87) scale(0.956 1)" style="font-size:13.47px">g</text>
<text class="b" transform="translate(747.70 393.76) scale(0.870 1)" style="font-size:13.80px;letter-spacing:0.7px;fill:#ff00ff;stroke:#ff00ff">Защита</text>
<rect x="687" y="402" width="73" height="1" fill="#ff00ff"/>
<rect x="760" y="401" width="73" height="1" fill="#ff00ff"/>
<line x1="684" y1="400.9" x2="699" y2="394.3" stroke="#ff00ff" stroke-width="1" shape-rendering="geometricPrecision"/>
<line x1="686.7" y1="402.9" x2="704" y2="414.8" stroke="#ff00ff" stroke-width="1" shape-rendering="geometricPrecision"/>
<text class="s" transform="translate(266.11 379.29) scale(0.887 1)" style="font-size:10.85px;letter-spacing:0.6px">SG3525</text>
<rect x="247" y="384" width="79" height="8" fill="#000"/>
<rect x="247" y="385" width="1" height="184" fill="#000"/>
<rect x="325" y="385" width="1" height="184" fill="#000"/>
<rect x="247" y="568" width="79" height="1" fill="#000"/>
<ellipse cx="214.45" cy="370.4" rx="17.05" ry="12.0" fill="none" stroke="#000" stroke-width="1" shape-rendering="geometricPrecision"/>
<text class="b" transform="translate(199.65 373.29) scale(1.214 1)" style="font-size:9.22px">+</text><text class="b" transform="translate(207.64 374.65) scale(0.570 1)" style="font-size:13.77px">1</text><text class="r" transform="translate(213.88 374.51) scale(0.964 1)" style="font-size:13.57px;letter-spacing:0.4px">5v</text>
<rect x="214" y="382" width="1" height="47" fill="#000"/>
<rect x="213" y="405" width="3" height="3" fill="#000"/>
<rect x="214" y="406" width="34" height="1" fill="#000"/>
<rect x="208" y="428" width="40" height="1" fill="#000"/>
<rect x="208" y="428" width="1" height="6" fill="#000"/>
<rect x="196" y="433" width="13" height="1" fill="#000"/>
<rect x="196" y="433" width="1" height="7" fill="#000"/>
<rect x="192" y="440" width="9" height="1" fill="#000"/>
<rect x="192" y="442" width="9" height="2" fill="#000"/>
<rect x="196" y="444" width="1" height="6" fill="#000"/>
<rect x="189" y="449" width="15" height="1" fill="#000"/>
<rect x="193" y="450" width="7" height="1" fill="#000"/>
<rect x="195" y="451" width="4" height="1" fill="#000"/>
<rect x="197" y="452" width="1" height="4" fill="#000"/>
<ellipse cx="198" cy="461.5" rx="4.6" ry="5.0" fill="none" stroke="#000" stroke-width="1" shape-rendering="geometricPrecision"/>
<rect x="196" y="460" width="5" height="1" fill="#000"/>
<text class="tb" transform="translate(205.10 446.49) scale(0.966 1)" style="font-size:13.82px;letter-spacing:0.3px">47.0</text>
<text class="b" transform="translate(232.15 402.97) scale(0.867 1)" style="font-size:13.24px;letter-spacing:0.7px">13</text>
<text class="b" transform="translate(230.15 425.46) scale(0.853 1)" style="font-size:13.57px;letter-spacing:0.7px">15</text>
<text class="tm" transform="translate(233.70 450.50) scale(0.972 1)" style="font-size:13.94px">4</text>
<text class="tm" transform="translate(235.97 469.66) scale(0.939 1)" style="font-size:14.03px">3</text>
<text class="tm" transform="translate(236.73 496.76) scale(0.957 1)" style="font-size:14.18px">6</text>
<text class="tm" transform="translate(237.14 519.80) scale(0.952 1)" style="font-size:14.50px">7</text>
<text class="tm" transform="translate(238.45 542.46) scale(0.965 1)" style="font-size:14.14px">5</text>
<text class="b" transform="translate(329.40 401.10) scale(0.780 1)" style="font-size:13.77px;letter-spacing:0.7px">11</text>
<text class="b" transform="translate(330.96 423.90) scale(0.817 1)" style="font-size:13.91px;letter-spacing:0.7px">14</text>
<text class="b" transform="translate(329.94 441.77) scale(0.885 1)" style="font-size:13.24px;letter-spacing:0.7px">10</text>
<text class="b" transform="translate(333.03 458.70) scale(0.758 1)" style="font-size:13.62px">1</text>
<text class="tm" transform="translate(334.44 474.66) scale(1.010 1)" style="font-size:14.18px">9</text>
<text class="b" transform="translate(335.02 491.80) scale(1.024 1)" style="font-size:13.43px">2</text>
<text class="b" transform="translate(332.17 509.66) scale(0.821 1)" style="font-size:13.66px;letter-spacing:0.7px">16</text>
<text class="b" transform="translate(331.46 527.00) scale(0.845 1)" style="font-size:13.43px;letter-spacing:0.7px">12</text>
<text class="b" transform="translate(332.84 546.66) scale(0.882 1)" style="font-size:13.52px">8</text>
<rect x="227" y="452" width="21" height="1" fill="#000"/>
<rect x="227" y="471" width="21" height="1" fill="#000"/>
<text class="b" transform="translate(252.14 409.67) scale(0.902 1)" style="font-size:13.27px;letter-spacing:0.7px">vc</text>
<text class="b" transform="translate(251.04 430.47) scale(0.903 1)" style="font-size:13.27px;letter-spacing:0.7px">vcc</text>
<text class="b" transform="translate(250.66 451.67) scale(0.859 1)" style="font-size:12.91px;letter-spacing:0.7px">osc</text>
<text class="b" transform="translate(250.69 474.87) scale(0.871 1)" style="font-size:13.47px;letter-spacing:0.7px">syng</text>
<text class="b" transform="translate(251.01 505.80) scale(0.876 1)" style="font-size:13.91px;letter-spacing:0.7px">RT</text>
<text class="b" transform="translate(250.65 525.77) scale(0.840 1)" style="font-size:13.47px;letter-spacing:0.7px">disc</text>
<text class="b" transform="translate(250.63 549.86) scale(0.849 1)" style="font-size:13.80px;letter-spacing:0.7px">CT</text>
<text class="b" transform="translate(289.73 409.87) scale(0.869 1)" style="font-size:13.43px;letter-spacing:0.7px">out A</text>
<text class="b" transform="translate(289.73 430.27) scale(0.888 1)" style="font-size:13.14px;letter-spacing:0.7px">out B</text>
<text class="b" transform="translate(293.74 448.47) scale(0.934 1)" style="font-size:12.79px;letter-spacing:0.7px">S-dn</text>
<text class="b" transform="translate(303.44 465.90) scale(0.859 1)" style="font-size:13.24px;letter-spacing:0.7px">-in</text>
<text class="b" transform="translate(284.62 480.71) scale(0.932 1)" style="font-size:12.80px;letter-spacing:0.7px">comp</text>
<text class="b" transform="translate(298.82 496.80) scale(0.898 1)" style="font-size:13.24px;letter-spacing:0.7px">+in</text>
<text class="b" transform="translate(296.34 514.97) scale(0.894 1)" style="font-size:13.33px;letter-spacing:0.7px">vref</text>
<text class="b" transform="translate(295.72 532.77) scale(0.905 1)" style="font-size:13.20px;letter-spacing:0.7px">Gnd</text>
<text class="b" transform="translate(300.78 554.67) scale(0.784 1)" style="font-size:13.27px;letter-spacing:0.7px">css</text>
<text class="tm" transform="translate(251.68 460.67) scale(1.036 1)" style="font-size:12.52px;letter-spacing:0.6px">out</text>
<rect x="326" y="405" width="31" height="1" fill="#000"/>
<rect x="326" y="426" width="67" height="1" fill="#000"/>
<rect x="326" y="445" width="142" height="1" fill="#000"/>
<rect x="467" y="445" width="1" height="11" fill="#000"/>
<rect x="460" y="455" width="15" height="1" fill="#000"/>
<rect x="464" y="456" width="7" height="1" fill="#000"/>
<rect x="466" y="457" width="4" height="1" fill="#000"/>
<rect x="468" y="458" width="1" height="4" fill="#000"/>
<ellipse cx="469" cy="467.5" rx="4.6" ry="5.0" fill="none" stroke="#000" stroke-width="1" shape-rendering="geometricPrecision"/>
<rect x="467" y="466" width="5" height="1" fill="#000"/>
<rect x="326" y="460" width="32" height="1" fill="#000"/>
<rect x="357.5" y="453.5" width="38" height="16" fill="none" stroke="#000" stroke-width="1"/>
<text class="b" transform="translate(365.23 465.80) scale(0.890 1)" style="font-size:13.24px;letter-spacing:0.7px">12k</text>
<rect x="396" y="460" width="13" height="1" fill="#000"/>
<rect x="408" y="460" width="1" height="19" fill="#000"/>
<rect x="326" y="478" width="83" height="1" fill="#000"/>
<rect x="408" y="468" width="46" height="1" fill="#000"/>
<rect x="453" y="468" width="1" height="28" fill="#000"/>
<text class="b" transform="translate(424.35 494.26) scale(0.849 1)" style="font-size:13.66px;letter-spacing:0.7px">10n</text>
<rect x="445" y="495" width="18" height="1" fill="#000"/>
<rect x="445" y="499" width="18" height="1" fill="#000"/>
<rect x="453" y="499" width="1" height="10" fill="#000"/>
<rect x="446" y="508" width="15" height="1" fill="#000"/>
<rect x="450" y="509" width="7" height="1" fill="#000"/>
<rect x="452" y="510" width="4" height="1" fill="#000"/>
<rect x="454" y="511" width="1" height="4" fill="#000"/>
<ellipse cx="455" cy="520.5" rx="4.6" ry="5.0" fill="none" stroke="#000" stroke-width="1" shape-rendering="geometricPrecision"/>
<rect x="453" y="519" width="5" height="1" fill="#000"/>
<rect x="326" y="494" width="32" height="1" fill="#000"/>
<rect x="357.5" y="487.5" width="38" height="16" fill="none" stroke="#000" stroke-width="1"/>
<text class="b" transform="translate(365.23 500.40) scale(0.873 1)" style="font-size:13.52px;letter-spacing:0.7px">12k</text>
<rect x="396" y="494" width="13" height="1" fill="#000"/>
<rect x="408" y="494" width="1" height="19" fill="#000"/>
<rect x="326" y="512" width="83" height="1" fill="#000"/>
<rect x="326" y="530" width="85" height="1" fill="#000"/>
<rect x="410" y="530" width="1" height="7" fill="#000"/>
<rect x="403" y="536" width="15" height="1" fill="#000"/>
<rect x="407" y="537" width="7" height="1" fill="#000"/>
<rect x="409" y="538" width="4" height="1" fill="#000"/>
<rect x="411" y="539" width="1" height="4" fill="#000"/>
<ellipse cx="412" cy="548.5" rx="4.6" ry="5.0" fill="none" stroke="#000" stroke-width="1" shape-rendering="geometricPrecision"/>
<rect x="410" y="547" width="5" height="1" fill="#000"/>
<rect x="326" y="552" width="31" height="1" fill="#000"/>
<rect x="338" y="551" width="3" height="3" fill="#000"/>
<rect x="339" y="552" width="1" height="61" fill="#000"/>
<rect x="339" y="612" width="67" height="1" fill="#000"/>
<rect x="405.5" y="608.5" width="20" height="9" fill="none" stroke="#000" stroke-width="1"/>
<rect x="426" y="612" width="623" height="1" fill="#000"/>
<rect x="1048" y="482" width="1" height="131" fill="#000"/>
<rect x="356" y="552" width="1" height="4" fill="#000"/>
<rect x="352" y="555" width="9" height="1" fill="#000"/>
<rect x="352" y="557" width="9" height="2" fill="#000"/>
<rect x="356" y="559" width="1" height="6" fill="#000"/>
<rect x="349" y="564" width="15" height="1" fill="#000"/>
<rect x="353" y="565" width="7" height="1" fill="#000"/>
<rect x="355" y="566" width="4" height="1" fill="#000"/>
<rect x="357" y="567" width="1" height="4" fill="#000"/>
<ellipse cx="358" cy="576.5" rx="4.6" ry="5.0" fill="none" stroke="#000" stroke-width="1" shape-rendering="geometricPrecision"/>
<rect x="356" y="575" width="5" height="1" fill="#000"/>
<text class="tb" transform="translate(365.00 561.79) scale(0.968 1)" style="font-size:13.97px;letter-spacing:0.3px">47.0</text>
<rect x="164" y="501" width="24" height="1" fill="#000"/>
<rect x="187.5" y="494.5" width="38" height="16" fill="none" stroke="#000" stroke-width="1"/>
<rect x="226" y="501" width="22" height="1" fill="#000"/>
<rect x="164" y="501" width="1" height="7" fill="#000"/>
<rect x="157" y="507" width="15" height="1" fill="#000"/>
<rect x="161" y="508" width="7" height="1" fill="#000"/>
<rect x="163" y="509" width="4" height="1" fill="#000"/>
<rect x="165" y="510" width="1" height="4" fill="#000"/>
<ellipse cx="166" cy="519.5" rx="4.6" ry="5.0" fill="none" stroke="#000" stroke-width="1" shape-rendering="geometricPrecision"/>
<rect x="164" y="518" width="5" height="1" fill="#000"/>
<rect x="163" y="493" width="1" height="1" fill="#000"/>
<rect x="187.5" y="516.5" width="38" height="16" fill="none" stroke="#000" stroke-width="1"/>
<text class="b" transform="translate(193.26 529.86) scale(0.829 1)" style="font-size:13.80px;letter-spacing:0.7px">100</text>
<rect x="226" y="523" width="22" height="1" fill="#000"/>
<rect x="181" y="523" width="7" height="1" fill="#000"/>
<rect x="181" y="523" width="1" height="24" fill="#000"/>
<rect x="181" y="546" width="67" height="1" fill="#000"/>
<rect x="209" y="546" width="1" height="10" fill="#000"/>
<rect x="200" y="555" width="18" height="1" fill="#000"/>
<rect x="200" y="559" width="18" height="1" fill="#000"/>
<rect x="209" y="559" width="1" height="7" fill="#000"/>
<rect x="202" y="565" width="15" height="1" fill="#000"/>
<rect x="206" y="566" width="7" height="1" fill="#000"/>
<rect x="208" y="567" width="4" height="1" fill="#000"/>
<rect x="210" y="568" width="1" height="4" fill="#000"/>
<ellipse cx="211" cy="577.5" rx="4.6" ry="5.0" fill="none" stroke="#000" stroke-width="1" shape-rendering="geometricPrecision"/>
<rect x="209" y="576" width="5" height="1" fill="#000"/>
<text class="b" transform="translate(176.43 561.70) scale(0.877 1)" style="font-size:13.48px;letter-spacing:0.7px">1n</text><text class="l" transform="translate(190.94 559.89) scale(1.211 1)" style="font-size:10.86px">*</text>
<text class="b" transform="translate(153.53 573.80) scale(0.884 1)" style="font-size:13.33px;letter-spacing:0.7px">Подбор</text>
<rect x="888" y="486" width="11" height="1" fill="#000"/>
<rect x="898.5" y="479.5" width="25" height="13" fill="none" stroke="#000" stroke-width="1"/>
<rect x="924" y="486" width="12" height="1" fill="#000"/>
<rect x="935" y="480" width="2" height="14" fill="#000"/>
<rect x="935" y="492" width="5" height="2" fill="#000"/>
<path d="M938.0 486.5 L944.3 482.2 L944.3 490.8 Z" fill="none" stroke="#000" stroke-width="1.9" stroke-linejoin="miter" shape-rendering="geometricPrecision"/>
<rect x="945" y="486" width="25" height="1" fill="#000"/>
<rect x="969" y="486" width="1" height="20" fill="#000"/>
<rect x="969" y="505" width="21" height="1" fill="#000"/>
<rect x="952" y="486" width="1" height="9" fill="#000"/>
<rect x="948.5" y="494.5" width="9" height="23" fill="none" stroke="#000" stroke-width="1"/>
<rect x="952" y="518" width="1" height="8" fill="#000"/>
<rect x="946" y="525" width="15" height="1" fill="#000"/>
<rect x="950" y="526" width="7" height="1" fill="#000"/>
<rect x="952" y="527" width="4" height="1" fill="#000"/>
<rect x="954" y="528" width="1" height="4" fill="#000"/>
<ellipse cx="955" cy="537.5" rx="4.6" ry="5.0" fill="none" stroke="#000" stroke-width="1" shape-rendering="geometricPrecision"/>
<rect x="953" y="536" width="5" height="1" fill="#000"/>
<text class="tm" transform="translate(935.89 477.80) scale(0.911 1)" style="font-size:15.15px">4,7</text><text class="r" transform="translate(953.93 477.80) scale(1.129 1)" style="font-size:12.83px">v</text>
<ellipse cx="993.5" cy="505.8" rx="13.6" ry="13.4" fill="none" stroke="#000" stroke-width="2" shape-rendering="geometricPrecision"/>
<rect x="988" y="499" width="2" height="12" fill="#000"/>
<line x1="990" y1="505.3" x2="1002.5" y2="497.2" stroke="#000" stroke-width="1" shape-rendering="geometricPrecision"/>
<rect x="1002" y="482" width="1" height="16" fill="#000"/>
<rect x="1002" y="482" width="47" height="1" fill="#000"/>
<line x1="990" y1="505.6" x2="1000.5" y2="516" stroke="#000" stroke-width="1" shape-rendering="geometricPrecision"/>
<path d="M996.8 515.5 L1000.5 515.5 L1000.5 511.8" fill="none" stroke="#000" stroke-width="1" stroke-linejoin="miter" shape-rendering="geometricPrecision"/>
<rect x="1000" y="516" width="1" height="12" fill="#000"/>
<rect x="993" y="527" width="15" height="1" fill="#000"/>
<rect x="997" y="528" width="7" height="1" fill="#000"/>
<rect x="999" y="529" width="4" height="1" fill="#000"/>
<rect x="1001" y="530" width="1" height="4" fill="#000"/>
<ellipse cx="1002" cy="539.5" rx="4.6" ry="5.0" fill="none" stroke="#000" stroke-width="1" shape-rendering="geometricPrecision"/>
<rect x="1000" y="538" width="5" height="1" fill="#000"/>
<rect x="920" y="502" width="1" height="1" fill="#000"/>
<rect x="920" y="513" width="1" height="1" fill="#000"/>
<rect x="920" y="523" width="1" height="1" fill="#000"/>
<rect x="920" y="533" width="1" height="1" fill="#000"/>
<rect x="920" y="543" width="1" height="1" fill="#000"/>
<rect x="920" y="553" width="1" height="1" fill="#000"/>
<rect x="920" y="563" width="1" height="1" fill="#000"/>
<rect x="920" y="573" width="1" height="1" fill="#000"/>
<rect x="920" y="583" width="1" height="1" fill="#000"/>
<rect x="920" y="593" width="1" height="1" fill="#000"/>
<rect x="506" y="593" width="1" height="1" fill="#000"/>
<rect x="516" y="593" width="1" height="1" fill="#000"/>
<rect x="526" y="593" width="1" height="1" fill="#000"/>
<rect x="536" y="593" width="1" height="1" fill="#000"/>
<rect x="546" y="593" width="1" height="1" fill="#000"/>
<rect x="557" y="593" width="1" height="1" fill="#000"/>
<rect x="567" y="593" width="1" height="1" fill="#000"/>
<rect x="577" y="593" width="1" height="1" fill="#000"/>
<rect x="587" y="593" width="1" height="1" fill="#000"/>
<rect x="597" y="593" width="1" height="1" fill="#000"/>
<rect x="607" y="593" width="1" height="1" fill="#000"/>
<rect x="617" y="593" width="1" height="1" fill="#000"/>
<rect x="627" y="593" width="1" height="1" fill="#000"/>
<rect x="637" y="593" width="1" height="1" fill="#000"/>
<rect x="647" y="593" width="1" height="1" fill="#000"/>
<rect x="658" y="593" width="1" height="1" fill="#000"/>
<rect x="668" y="593" width="1" height="1" fill="#000"/>
<rect x="678" y="593" width="1" height="1" fill="#000"/>
<rect x="688" y="593" width="1" height="1" fill="#000"/>
<rect x="698" y="593" width="1" height="1" fill="#000"/>
<rect x="708" y="593" width="1" height="1" fill="#000"/>
<rect x="718" y="593" width="1" height="1" fill="#000"/>
<rect x="728" y="593" width="1" height="1" fill="#000"/>
<rect x="738" y="593" width="1" height="1" fill="#000"/>
<rect x="748" y="593" width="1" height="1" fill="#000"/>
<rect x="759" y="593" width="1" height="1" fill="#000"/>
<rect x="769" y="593" width="1" height="1" fill="#000"/>
<rect x="779" y="593" width="1" height="1" fill="#000"/>
<rect x="789" y="593" width="1" height="1" fill="#000"/>
<rect x="899" y="593" width="1" height="1" fill="#000"/>
<rect x="909" y="593" width="1" height="1" fill="#000"/>
<rect x="1091" y="441" width="1" height="1" fill="#000"/>
</svg>
</body>
</html>
